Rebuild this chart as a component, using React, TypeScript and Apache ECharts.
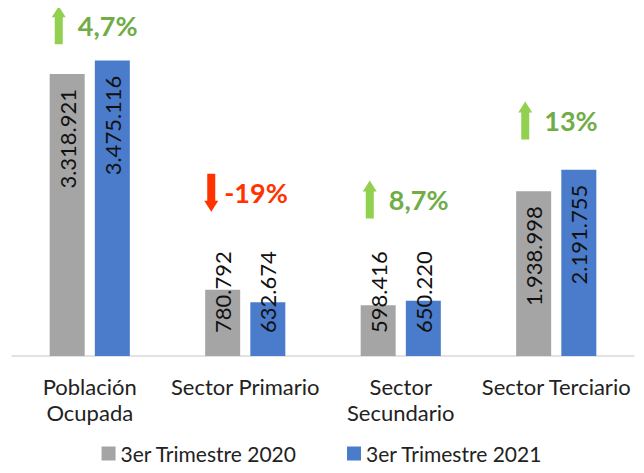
import React, { useEffect, useRef } from "react";
import * as echarts from "echarts";

const categories = ["Población\nOcupada", "Sector Primario", "Sector\nSecundario", "Sector Terciario"];
const series2020 = [3318921, 780792, 598416, 1938998];
const series2021 = [3475116, 632674, 650220, 2191755];
const seriesNames = ["3er Trimestre 2020", "3er Trimestre 2021"];
const changeLabels = ["4,7%", "-19%", "8,7%", "13%"];
const changeUp = [true, false, true, true];
const changeAnchorY = [3890000, 1920000, 1840000, 2770000];

const FONT = "Lato, 'Open Sans', sans-serif";
const GREEN_TEXT = "#70AD47";
const GREEN_ARROW = "#92D050";
const RED = "#FF3300";

const fmt = (v: number) => String(v).replace(/\B(?=(\d{3})+(?!\d))/g, ".");

function labelFor(v: number) {
  const big = v > 1000000;
  return big
    ? { show: true, position: "insideTop", distance: 15, rotate: 90, align: "right", verticalAlign: "middle" }
    : { show: true, position: "insideBottom", distance: 23, rotate: 90, align: "left", verticalAlign: "middle" };
}

export default function App() {
  const ref = useRef<HTMLDivElement>(null);
  useEffect(() => {
    if (!ref.current) return;
    const chart = echarts.init(ref.current, null, { renderer: "svg" });
    const labelStyle = {
      fontFamily: FONT,
      fontSize: 22,
      color: "#111",
      formatter: (p: any) => fmt(p.value),
    };
    chart.setOption({
      animation: false,
      grid: { left: 12, right: 10, top: 16, bottom: 117 },
      legend: {
        bottom: 4,
        left: "center",
        itemWidth: 14,
        itemHeight: 14,
        itemGap: 50,
        icon: "rect",
        textStyle: { fontFamily: FONT, fontSize: 21, color: "#222", padding: [0, 0, 0, 0] },
        data: seriesNames,
      },
      xAxis: {
        type: "category",
        data: categories,
        axisLine: { lineStyle: { color: "#D9D9D9", width: 1.5 } },
        axisTick: { show: false },
        axisLabel: {
          fontFamily: FONT,
          fontSize: 22,
          color: "#222",
          lineHeight: 26,
          margin: 17,
          interval: 0,
        },
      },
      yAxis: { type: "value", min: 0, max: 4000000, show: false, splitLine: { show: false } },
      series: [
        {
          name: seriesNames[0],
          type: "bar",
          barWidth: 35,
          barGap: "29%",
          itemStyle: { color: "#A5A5A5" },
          data: series2020.map((v) => ({ value: v, label: { ...labelFor(v), ...labelStyle } })),
        },
        {
          name: seriesNames[1],
          type: "bar",
          barWidth: 35,
          barGap: "29%",
          itemStyle: { color: "#4A7CCB" },
          data: series2021.map((v) => ({ value: v, label: { ...labelFor(v), ...labelStyle } })),
        },
        {
          type: "custom",
          silent: true,
          data: changeAnchorY.map((y, i) => [i, y]),
          renderItem: (params: any, api: any) => {
            const i = params.dataIndex;
            const [cx, cy] = api.coord([api.value(0), api.value(1)]);
            const up = changeUp[i];
            const ax = cx - (up ? 31 : 34);
            const arrowColor = up ? GREEN_ARROW : RED;
            const textColor = up ? GREEN_TEXT : RED;
            const h = 19;
            const hw = 7;
            const sw = 4;
            const hh = 11;
            const pts = up
              ? [
                  [ax, cy - h],
                  [ax + hw, cy - h + hh],
                  [ax + sw, cy - h + hh],
                  [ax + sw, cy + h],
                  [ax - sw, cy + h],
                  [ax - sw, cy - h + hh],
                  [ax - hw, cy - h + hh],
                ]
              : [
                  [ax, cy + h],
                  [ax + hw, cy + h - hh],
                  [ax + sw, cy + h - hh],
                  [ax + sw, cy - h],
                  [ax - sw, cy - h],
                  [ax - sw, cy + h - hh],
                  [ax - hw, cy + h - hh],
                ];
            return {
              type: "group",
              children: [
                { type: "polygon", shape: { points: pts }, style: { fill: arrowColor } },
                {
                  type: "text",
                  x: ax + (up ? 19 : 13),
                  y: cy,
                  style: {
                    text: changeLabels[i],
                    fill: textColor,
                    font: `bold 27px ${FONT}`,
                    textAlign: "left",
                    textVerticalAlign: "middle",
                  },
                },
              ],
            };
          },
        },
      ],
    });
    return () => chart.dispose();
  }, []);
  return <div ref={ref} style={{ width: 644, height: 473, margin: -8 }} />;
}
